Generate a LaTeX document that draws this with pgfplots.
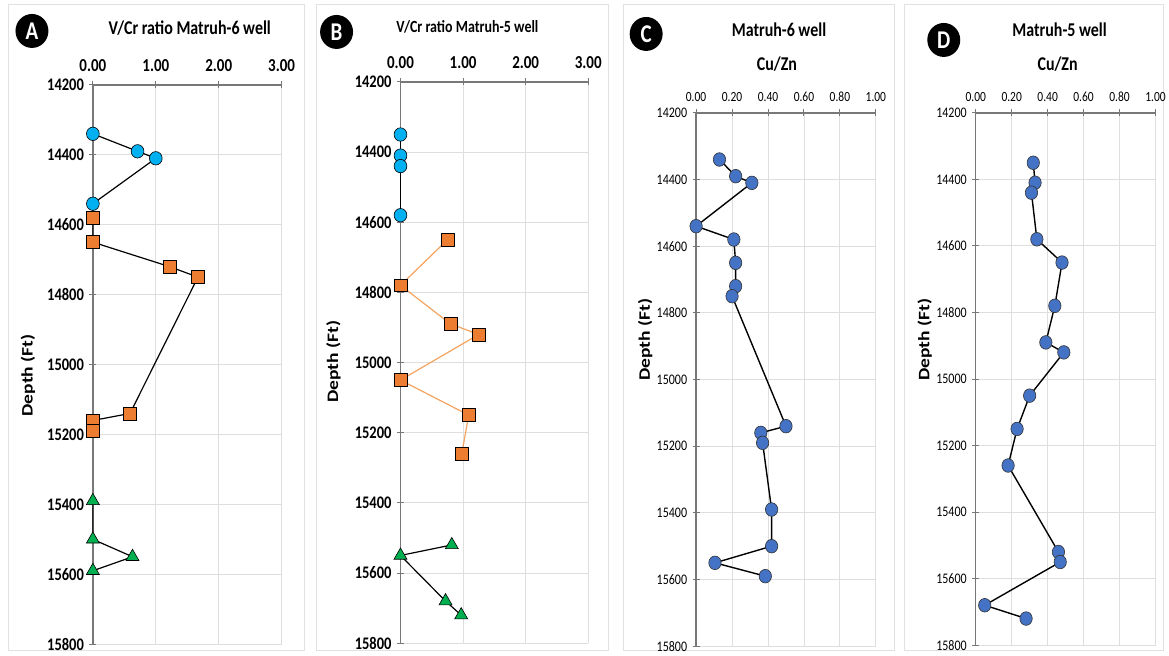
\documentclass[border=0pt]{standalone}
\usepackage{pgfplots}
\pgfplotsset{compat=1.18}
\usepackage{fontspec}
\setmainfont{Carlito}
\usepackage{graphicx}

\definecolor{gridgray}{RGB}{222,222,222}
\definecolor{axgray}{RGB}{120,120,120}
\definecolor{boxgray}{RGB}{225,225,225}
\definecolor{cyanmk}{RGB}{0,176,240}
\definecolor{orangemk}{RGB}{237,125,49}
\definecolor{orangeln}{RGB}{244,164,96}
\definecolor{greenmk}{RGB}{0,176,80}
\definecolor{bluemk}{RGB}{68,114,196}

% Calibri-like text, slightly tall
\newcommand\vstretch[1]{\scalebox{1}[1.22]{#1}}
\newcommand\hstretch[1]{\scalebox{1.22}[1]{#1}}

\pgfplotsset{
  welllog/.style={
    scale only axis,
    anchor=south west,
    clip=false,
    y dir=reverse,
    ymin=14200, ymax=15800,
    ytick={14200,14400,...,15800},
    scaled x ticks=false,
    scaled y ticks=false,
    axis x line*=top,
    axis y line*=left,
    grid=major,
    major grid style={draw=gridgray, line width=0.9pt},
    axis line style={draw=axgray, line width=1.3pt},
    tick align=center,
    major tick length=7pt,
    tick style={draw=axgray, line width=1pt},
  },
  bigticks/.style={
    xticklabel={\vstretch{\pgfmathprintnumber[fixed,fixed zerofill,precision=2,assume math mode=true]{\tick}}},
    yticklabel={\vstretch{\pgfmathprintnumber[fixed,precision=0,1000 sep={},assume math mode=true]{\tick}}},
    xticklabel style={font=\bfseries\fontsize{15}{18}\selectfont, yshift=6pt},
    yticklabel style={font=\bfseries\fontsize{14.5}{17}\selectfont, xshift=-2pt},
  },
  smallticks/.style={
    xticklabel={\vstretch{\pgfmathprintnumber[fixed,fixed zerofill,precision=2,assume math mode=true]{\tick}}},
    yticklabel={\vstretch{\pgfmathprintnumber[fixed,precision=0,1000 sep={},assume math mode=true]{\tick}}},
    xticklabel style={font=\fontsize{11.5}{14}\selectfont, yshift=4pt},
    yticklabel style={font=\fontsize{12}{14}\selectfont, xshift=-2pt},
  },
  circ/.style={black, line width=1.2pt, mark=*, mark size=6.4pt,
    mark options={fill=cyanmk, draw=black, line width=0.6pt, yscale=1.05}},
  sq/.style={mark=square*, mark size=6.4pt,
    mark options={fill=orangemk, draw=black, line width=0.6pt}},
  tri/.style={black, line width=1.2pt, mark=triangle*, mark size=7.5pt,
    mark options={fill=greenmk, draw=black, line width=0.6pt}},
  bcirc/.style={black, line width=1.4pt, mark=*, mark size=6.2pt,
    mark options={fill=bluemk, draw=black!80, line width=0.6pt, yscale=1.1}},
}

\begin{document}
\begin{tikzpicture}[x=1pt,y=1pt]
\fill[white] (0pt,0pt) rectangle (1169pt,656pt);

% panel frames
\draw[boxgray, line width=1pt] (9pt,5pt) rectangle (305pt,651pt);
\draw[boxgray, line width=1pt] (317pt,5pt) rectangle (609pt,651pt);
\draw[boxgray, line width=1pt] (624pt,5pt) rectangle (896pt,651pt);
\draw[boxgray, line width=1pt] (906pt,5pt) rectangle (1165pt,651pt);

% ---------------- A: V/Cr, Matruh-6 ----------------
\begin{axis}[welllog, bigticks, at={(93pt,11pt)}, width=189pt, height=560pt,
  xmin=0, xmax=3, xtick={0,1,2,3}]
\addplot[circ] coordinates {(0,14340) (0.71,14390) (1.00,14410) (0,14540)};
\addplot[sq, black, line width=1.2pt] coordinates {(0,14580) (0,14650) (1.22,14720) (1.67,14750) (0.59,15140) (0,15160) (0,15190)};
\addplot[tri] coordinates {(0,15390) (0,15500) (0.63,15550) (0,15590)};
\end{axis}

% ---------------- B: V/Cr, Matruh-5 ----------------
\begin{axis}[welllog, bigticks, at={(401pt,12pt)}, width=188pt, height=562pt,
  xmin=0, xmax=3, xtick={0,1,2,3}]
\addplot[circ] coordinates {(0,14350) (0,14410) (0,14440) (0,14580)};
\addplot[sq, orangeln, line width=1.2pt] coordinates {(0.75,14650) (0,14780) (0.80,14890) (1.25,14920) (0,15050) (1.09,15150) (0.98,15260)};
\addplot[tri] coordinates {(0.82,15520) (0,15550) (0.72,15680) (0.97,15720)};
\end{axis}

% ---------------- C: Cu/Zn, Matruh-6 ----------------
\begin{axis}[welllog, smallticks, at={(697pt,9pt)}, width=180pt, height=534pt,
  xmin=0, xmax=1, xtick={0,0.2,0.4,0.6,0.8,1}]
\addplot[bcirc] coordinates {(0.13,14340) (0.22,14390) (0.31,14410) (0,14540)
  (0.21,14580) (0.22,14650) (0.22,14720) (0.20,14750) (0.50,15140) (0.36,15160)
  (0.37,15190) (0.42,15390) (0.42,15500) (0.105,15550) (0.385,15590)};
\end{axis}

% ---------------- D: Cu/Zn, Matruh-5 ----------------
\begin{axis}[welllog, smallticks, at={(977pt,10pt)}, width=180pt, height=533pt,
  xmin=0, xmax=1, xtick={0,0.2,0.4,0.6,0.8,1}]
\addplot[bcirc] coordinates {(0.32,14350) (0.33,14410) (0.31,14440) (0.34,14580)
  (0.48,14650) (0.44,14780) (0.39,14890) (0.49,14920) (0.30,15050) (0.23,15150)
  (0.18,15260) (0.46,15520) (0.47,15550) (0.05,15680) (0.28,15720)};
\end{axis}

% titles
\node[font=\bfseries\fontsize{16}{19}\selectfont] at (190pt,628pt) {\vstretch{V/Cr ratio Matruh-6 well}};
\node[font=\bfseries\fontsize{14}{17}\selectfont] at (468pt,629pt) {\vstretch{V/Cr ratio Matruh-5 well}};
\node[font=\bfseries\fontsize{16}{19}\selectfont] at (780pt,626pt) {\vstretch{Matruh-6 well}};
\node[font=\bfseries\fontsize{16}{19}\selectfont] at (778pt,592pt) {\vstretch{Cu/Zn}};
\node[font=\bfseries\fontsize{16}{19}\selectfont] at (1061pt,626pt) {\vstretch{Matruh-5 well}};
\node[font=\bfseries\fontsize{16}{19}\selectfont] at (1059pt,592pt) {\vstretch{Cu/Zn}};

% depth labels
\node[rotate=90, font=\bfseries\fontsize{16}{19}\selectfont] at (28pt,280pt) {\hstretch{Depth (Ft)}};
\node[rotate=90, font=\bfseries\fontsize{16}{19}\selectfont] at (334pt,294pt) {\hstretch{Depth (Ft)}};
\node[rotate=90, font=\bfseries\fontsize{16}{19}\selectfont] at (646pt,316pt) {\hstretch{Depth (Ft)}};
\node[rotate=90, font=\bfseries\fontsize{16}{19}\selectfont] at (926pt,316pt) {\hstretch{Depth (Ft)}};

% panel letters
\foreach \cx/\cy/\lt in {32/625/A, 337/624/B, 647/622/C, 945/616/D}{
  \fill[black] (\cx pt,\cy pt) ellipse (16.5pt and 17pt);
  \node[text=white, font=\bfseries\fontsize{21}{24}\selectfont] at (\cx pt,\cy pt) {\vstretch{\lt}};
}
\end{tikzpicture}
\end{document}
